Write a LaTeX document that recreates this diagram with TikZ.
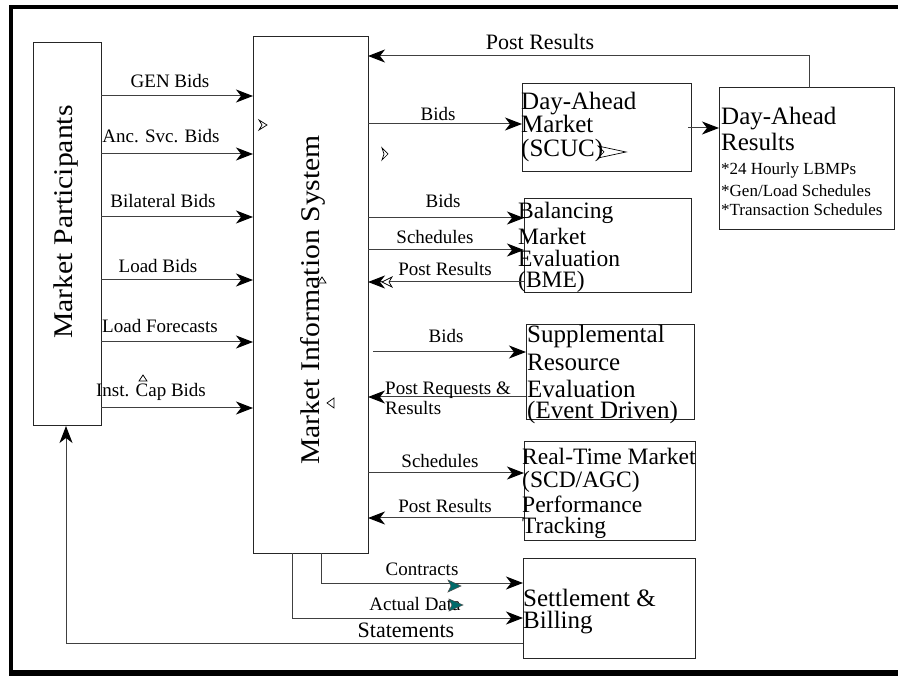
\documentclass[tikz,border=0pt]{standalone}
\usepackage{fontspec}
\setmainfont{Liberation Serif}
\usetikzlibrary{arrows.meta}

\begin{document}
\begin{tikzpicture}[x=1pt,y=-1pt,
  box/.style={draw=black!85,line width=1pt,inner sep=0pt,outer sep=0pt,anchor=north west},
  conn/.style={draw=black!75,line width=1pt},
  arr/.style={conn,-{Stealth[length=17pt,width=13pt,inset=5pt,color=black,fill=black]}},
  lbl/.style={font=\fontsize{19}{19}\selectfont,anchor=base,inner sep=0pt},
  lblw/.style={font=\fontsize{19}{19}\selectfont,anchor=base west,inner sep=0pt},
  biglbl/.style={font=\fontsize{22}{22}\selectfont,anchor=base,inner sep=0pt},
  boxtxt/.style={font=\fontsize{25}{25}\selectfont,anchor=base west,inner sep=0pt},
  midtxt/.style={font=\fontsize{23.5}{23.5}\selectfont,anchor=base west,inner sep=0pt},
  smalltxt/.style={font=\fontsize{17}{17}\selectfont,anchor=base west,inner sep=0pt},
  vtxt/.style={font=\fontsize{27}{27}\selectfont,anchor=base,inner sep=0pt,rotate=90},
  openmark/.style={draw=black,line width=0.7pt,fill=white},
  tealmark/.style={draw=black!70,line width=0.5pt,fill=teal!80!cyan!70!black}
]
\useasboundingbox (0,0) rectangle (898,676);

% outer frame
\draw[line width=4.5pt] (11,676) -- (11,7) -- (898,7);
\draw[line width=6pt] (11,673) -- (898,673);

% boxes
\node[box,minimum width=68pt,minimum height=383pt] (mp) at (33,43) {};
\node[box,minimum width=115pt,minimum height=516pt] (mis) at (253,37) {};
\node[box,minimum width=169pt,minimum height=88pt] (dam) at (522,84) {};
\node[box,minimum width=175pt,minimum height=142pt] (dar) at (719,88) {};
\node[box,minimum width=167pt,minimum height=94pt] (bme) at (524,199) {};
\node[box,minimum width=168pt,minimum height=95pt] (sre) at (526,325) {};
\node[box,minimum width=171pt,minimum height=99pt] (rtm) at (524,442) {};
\node[box,minimum width=172pt,minimum height=100pt] (stl) at (523,558) {};

% vertical titles
\node[vtxt] (mpt) at (72,222) {\scalebox{1.1}[1]{Market Participants}};
\node[vtxt] (mist) at (319,300) {\scalebox{1.1}[1]{Market Information System}};

% box texts
\node[boxtxt] (dam1) at (521,110) {Day-Ahead};
\node[boxtxt] (dam2) at (521,133) {Market};
\node[boxtxt] (dam3) at (521,157) {(SCUC)};

\node[boxtxt] (dar1) at (721,125) {Day-Ahead};
\node[boxtxt] (dar2) at (721,151) {Results};
\node[smalltxt] (dar3) at (721,175) {*24 Hourly LBMPs};
\node[smalltxt] (dar4) at (721,197) {*Gen/Load Schedules};
\node[smalltxt] (dar5) at (721,216) {*Transaction Schedules};

\node[midtxt] (bme1) at (518,219) {Balancing};
\node[midtxt] (bme2) at (518,245) {Market};
\node[midtxt] (bme3) at (518,267) {Evaluation};
\node[midtxt] (bme4) at (518,288) {(BME)};

\node[boxtxt] (sre1) at (527,343) {Supplemental};
\node[boxtxt] (sre2) at (527,371) {Resource};
\node[boxtxt] (sre3) at (527,398) {Evaluation};
\node[boxtxt] (sre4) at (527,419) {(Event Driven)};

\node[midtxt] (rtm1) at (522,465) {Real-Time Market};
\node[midtxt] (rtm2) at (522,488) {(SCD/AGC)};
\node[midtxt] (rtm3) at (522,512) {Performance};
\node[midtxt] (rtm4) at (522,533) {Tracking};

\node[boxtxt] (stl1) at (523,606) {Settlement \&};
\node[boxtxt] (stl2) at (523,628) {Billing};

% participant submissions
\draw[arr] (mp.east |- 0,96)  -- (mis.west |- 0,96);
\draw[arr] (mp.east |- 0,154) -- (mis.west |- 0,154);
\draw[arr] (mp.east |- 0,217) -- (mis.west |- 0,217);
\draw[arr] (mp.east |- 0,280) -- (mis.west |- 0,280);
\draw[arr] (mp.east |- 0,342) -- (mis.west |- 0,342);
\draw[arr] (mp.east |- 0,408) -- (mis.west |- 0,408);
\node[lbl] (l1) at (170,88)  {GEN Bids};
\node[lbl] (l2) at (161,143) {Anc. Svc. Bids};
\node[lbl] (l3) at (163,208) {Bilateral Bids};
\node[lbl] (l4) at (158,273) {Load Bids};
\node[lbl] (l5) at (160,333) {Load Forecasts};
\node[lbl] (l6) at (151,397) {Inst. Cap Bids};

% day-ahead market
\draw[arr] (mis.east |- 0,124) -- (dam.west |- 0,124);
\node[lbl] (r1) at (438,121) {Bids};
\draw[arr] ([xshift=-3pt]dam.east |- 0,128) -- (dar.west |- 0,128);
\draw[arr] ([xshift=3pt]dar.north) |- (mis.east |- 0,56);
\node[biglbl] (r0) at (540,50) {Post Results};

% balancing market evaluation
\draw[arr] (mis.east |- 0,218) -- (bme.west |- 0,218);
\node[lbl] (r2) at (443,208) {Bids};
\draw[arr] (mis.east |- 0,250) -- (bme.west |- 0,250);
\node[lbl] (r3) at (435,244) {Schedules};
\draw[arr] (bme.west |- 0,282) -- (mis.east |- 0,282);
\node[lbl] (r4) at (445,276) {Post Results};

% supplemental resource evaluation
\draw[arr] ([xshift=5pt]mis.east |- 0,352) -- (sre.west |- 0,352);
\node[lbl] (r5) at (446,343) {Bids};
\draw[arr] (sre.west |- 0,397) -- (mis.east |- 0,397);
\node[lblw] (r6) at (385,395) {Post Requests \&};
\node[lblw] (r7) at (385,415) {Results};

% real-time market
\draw[arr] (mis.east |- 0,473) -- (rtm.west |- 0,473);
\node[lbl] (r8) at (440,468) {Schedules};
\draw[arr] (rtm.west |- 0,518) -- (mis.east |- 0,518);
\node[lbl] (r9) at (445,513) {Post Results};

% settlement
\draw[arr] (mis.south -| 321,0) |- (stl.west |- 0,583);
\node[lbl] (s1) at (422,576) {Contracts};
\draw[arr] (mis.south -| 292,0) |- (stl.west |- 0,618);
\node[lbl] (s2) at (415,610) {Actual Data};
\draw[arr] (stl.west |- 0,643) -| ([xshift=-1pt]mp.south);
\node[biglbl] (s3) at (406,637) {Statements};

% loose arrowhead glyphs
\draw[openmark] (259,120) -- (267,125) -- (259,130) -- (262,125) -- cycle;
\draw[openmark] (382,148) -- (388,154) -- (382,160) -- (384,154) -- cycle;
\draw[openmark] (139,381) -- (143,375) -- (147,381) -- cycle;
\draw[openmark] (318,283) -- (322,277) -- (326,283) -- cycle;
\draw[openmark] (334,398) -- (327,403) -- (334,408) -- cycle;
\draw[openmark] (392,277) -- (382,282) -- (392,287) -- (389,282) -- cycle;
\draw[openmark,fill=none] (598,146) -- (626,152) -- (598,158) -- (604,152) -- cycle;
\draw[tealmark] (448,580) -- (461,586) -- (448,592) -- (451,586) -- cycle;
\draw[tealmark] (449,599) -- (463,605) -- (449,611) -- (452,605) -- cycle;
\end{tikzpicture}
\end{document}
